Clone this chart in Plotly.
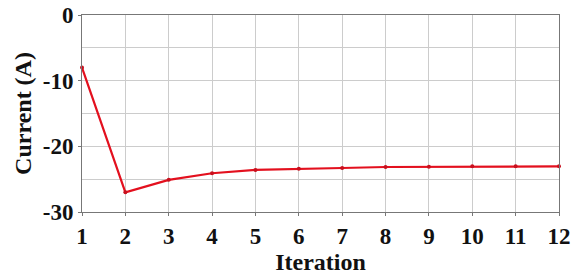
import plotly.graph_objects as go

iterations = [1, 2, 3, 4, 5, 6, 7, 8, 9, 10, 11, 12]
current = [-8.0, -27.0, -25.1, -24.1, -23.6, -23.4, -23.3, -23.15, -23.1, -23.05, -23.05, -23.05]
x_ticks = list(range(1, 13))
y_ticks = [0, -10, -20, -30]

fig = go.Figure()
fig.add_trace(go.Scatter(
    x=iterations, y=current, mode="lines+markers",
    line=dict(color="#e3101e", width=2.2),
    marker=dict(color="#c8101e", size=4),
    cliponaxis=False,
))

font = dict(family="Liberation Serif", size=23, color="#111")
fig.update_layout(
    width=574, height=279,
    margin=dict(l=82, r=15, t=15, b=67, autoexpand=False),
    plot_bgcolor="white", paper_bgcolor="white",
    showlegend=False,
    font=font,
)
fig.update_xaxes(
    range=[1, 12], tickvals=x_ticks, ticktext=[f"<b>{v}</b>" for v in x_ticks],
    showgrid=True, gridcolor="#cccccc", gridwidth=1,
    showline=True, linecolor="#777", linewidth=1, mirror=True,
    ticks="outside", ticklen=3, tickcolor="#777",
    title=dict(text="<b>Iteration</b>", standoff=4, font=dict(size=24)),
    zeroline=False, automargin=False,
)
fig.update_yaxes(
    range=[-30, 0], tickvals=y_ticks, ticktext=[f"<b>{v}</b>" for v in y_ticks],
    showgrid=True, gridcolor="#cccccc", gridwidth=1,
    minor=dict(tickvals=[-5, -15, -25], showgrid=True, gridcolor="#cccccc"),
    showline=True, linecolor="#777", linewidth=1, mirror=True,
    ticks="outside", ticklen=3, tickcolor="#777",
    title=dict(text="<b>Current (A)</b>", standoff=4, font=dict(size=24)),
    zeroline=False, automargin=False,
)
fig.write_html(
    "out.html",
    config={"displayModeBar": False},
    post_script="document.body.style.margin='0px';document.body.style.overflow='hidden';",
)
